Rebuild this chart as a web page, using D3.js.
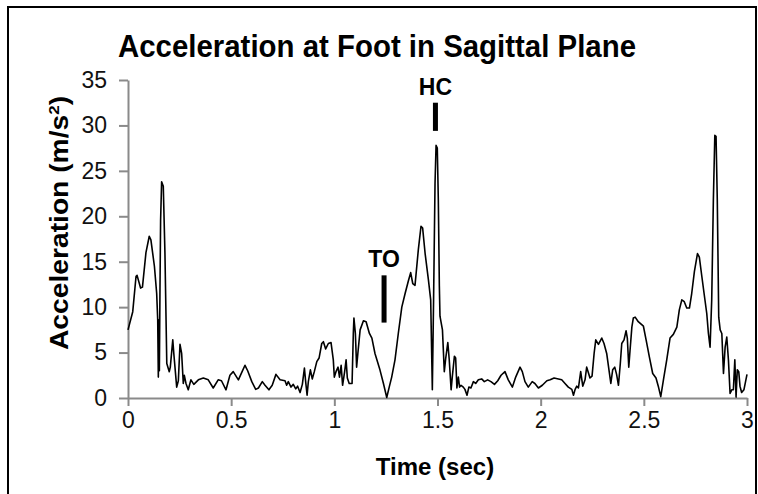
<!DOCTYPE html>
<html>
<head>
<meta charset="utf-8">
<script src="https://cdn.jsdelivr.net/npm/d3@7"></script>
<style>
  body { margin: 0; background: #fff; }
  svg { display: block; font-family: "Liberation Sans", Arial, sans-serif; }
</style>
</head>
<body>
<svg id="chart"></svg>
<script>
// time (sec) and acceleration (m/s^2)
const time = [
  0, 0.023, 0.039, 0.044, 0.061, 0.07, 0.087, 0.103, 0.111, 0.128, 0.139, 0.144, 0.147, 0.15, 0.152, 0.155, 0.158, 0.163, 0.171, 0.179,
  0.188, 0.2, 0.205, 0.217, 0.222, 0.236, 0.244, 0.252, 0.26, 0.268, 0.273, 0.281, 0.292, 0.305, 0.319, 0.341, 0.365, 0.389, 0.413, 0.437,
  0.453, 0.475, 0.494, 0.51, 0.535, 0.553, 0.567, 0.58, 0.6, 0.619, 0.632, 0.651, 0.664, 0.683, 0.699, 0.717, 0.737, 0.761, 0.769, 0.777,
  0.79, 0.801, 0.813, 0.822, 0.834, 0.845, 0.855, 0.861, 0.868, 0.874, 0.884, 0.893, 0.903, 0.915, 0.926, 0.939, 0.947, 0.958, 0.971, 0.984,
  0.995, 1.0, 1.008, 1.018, 1.025, 1.033, 1.04, 1.05, 1.057, 1.063, 1.072, 1.086, 1.092, 1.095, 1.102, 1.108, 1.114, 1.125, 1.141, 1.154,
  1.17, 1.182, 1.197, 1.221, 1.238, 1.254, 1.266, 1.278, 1.294, 1.31, 1.327, 1.343, 1.359, 1.37, 1.38, 1.391, 1.407, 1.42, 1.428, 1.44,
  1.456, 1.467, 1.475, 1.481, 1.488, 1.493, 1.499, 1.504, 1.509, 1.512, 1.524, 1.533, 1.54, 1.55, 1.557, 1.566, 1.572, 1.582, 1.588, 1.594,
  1.601, 1.607, 1.614, 1.625, 1.633, 1.643, 1.652, 1.662, 1.674, 1.685, 1.698, 1.714, 1.727, 1.743, 1.759, 1.776, 1.792, 1.808, 1.827, 1.843,
  1.863, 1.879, 1.9, 1.911, 1.924, 1.94, 1.959, 1.972, 1.989, 2.008, 2.03, 2.046, 2.065, 2.086, 2.102, 2.118, 2.134, 2.151, 2.159, 2.167,
  2.175, 2.183, 2.194, 2.204, 2.215, 2.223, 2.231, 2.239, 2.249, 2.259, 2.267, 2.28, 2.296, 2.307, 2.32, 2.331, 2.34, 2.349, 2.359, 2.368,
  2.377, 2.386, 2.393, 2.404, 2.414, 2.42, 2.427, 2.433, 2.442, 2.449, 2.458, 2.473, 2.498, 2.511, 2.527, 2.543, 2.559, 2.57, 2.582, 2.595,
  2.611, 2.627, 2.643, 2.66, 2.672, 2.684, 2.696, 2.708, 2.721, 2.732, 2.745, 2.76, 2.769, 2.781, 2.792, 2.805, 2.813, 2.821, 2.829, 2.837,
  2.844, 2.85, 2.856, 2.863, 2.87, 2.878, 2.886, 2.894, 2.902, 2.91, 2.918, 2.926, 2.934, 2.941, 2.947, 2.953, 2.96, 2.966, 2.974, 2.985,
  3.0
];
const accel = [
  7.5, 9.5, 13.4, 13.5, 12.1, 12.2, 16, 17.8, 17.4, 14.5, 11.5, 8.6, 2.3, 8.6, 3.0, 12, 19.6, 23.8, 23.3, 16,
  3.8, 2.9, 3.4, 6.4, 4.9, 1.2, 1.9, 5.9, 4.9, 1.6, 2.5, 1.6, 0.9, 2.0, 1.5, 2.0, 2.2, 2.0, 1.1, 2.0,
  1.9, 0.9, 2.5, 2.9, 2.0, 2.9, 3.6, 3.0, 1.8, 0.95, 1.1, 1.8, 1.4, 0.9, 1.4, 2.6, 2.0, 1.9, 1.4, 1.8,
  1.2, 1.5, 1.0, 1.3, 0.6, 1.5, 3.3, 1.8, 0.3, 1.8, 3.1, 2.1, 2.9, 4.0, 4.4, 6.0, 6.2, 5.4, 6.0, 6.1,
  4.2, 2.3, 2.9, 3.4, 2.3, 3.6, 1.4, 2.9, 4.2, 2.2, 1.6, 1.6, 7.1, 8.8, 7.1, 3.4, 4.9, 7.5, 8.5, 8.4,
  7.1, 6.6, 4.9, 3.1, 1.6, 0.05, 1.2, 2.3, 4.2, 7.1, 10.0, 11.5, 12.9, 13.8, 12.6, 12.4, 16.3, 18.9, 18.7, 15.9,
  13.0, 10.8, 0.9, 10.8, 23.6, 27.8, 27.5, 21.8, 12.3, 9.0, 7.5, 2.9, 4.4, 6.1, 4.2, 0.9, 2.4, 4.6, 4.4, 1.1,
  2.3, 1.2, 1.4, 1.2, 0.95, 0.3, 1.2, 1.1, 1.8, 1.6, 2.0, 2.1, 1.8, 2.0, 1.8, 1.5, 1.9, 2.5, 2.9, 2.0,
  1.2, 2.3, 3.4, 2.9, 1.8, 1.2, 1.8, 1.6, 1.1, 1.4, 1.9, 2.0, 2.2, 2.1, 2.0, 1.6, 1.2, 0.95, 0.3, 0.95,
  1.3, 1.1, 2.9, 1.3, 2.0, 3.4, 2.8, 2.2, 2.4, 4.9, 6.4, 5.9, 6.6, 6.0, 4.9, 3.1, 1.6, 3.1, 3.4, 2.6,
  1.4, 3.8, 6.0, 6.4, 7.4, 6.6, 3.4, 5.2, 7.8, 8.8, 8.9, 8.4, 7.9, 6.4, 4.5, 2.7, 2.2, 1.3, 0.15, 2.0,
  4.2, 6.6, 7.0, 7.8, 9.7, 10.8, 10.6, 9.9, 9.9, 11.5, 13.9, 15.9, 15.5, 13.4, 11.5, 9.3, 7.1, 5.6, 10.8, 21.8,
  28.9, 28.8, 21.8, 8.9, 7.5, 7.1, 2.7, 5.6, 6.7, 4.2, 0.5, 0.9, 0.9, 4.2, 0.1, 3.1, 2.9, 1.3, 0.6, 0.9,
  2.6
];

const xTicks = [0, 0.5, 1, 1.5, 2, 2.5, 3];
const yTicks = [0, 5, 10, 15, 20, 25, 30, 35];

// gait events: label, time, bar bottom / top (m/s^2)
const eventNames = ['TO', 'HC'];
const eventTimes = [1.241, 1.49];
const eventLow = [8.3, 29.4];
const eventHigh = [13.5, 32.5];

const W = 758, H = 494;
const margin = { top: 80, right: 11, bottom: 96, left: 128 };

const svg = d3.select('#chart')
    .attr('width', W)
    .attr('height', H);

// outer frame
svg.append('rect')
    .attr('x', 8).attr('y', 7)
    .attr('width', 748).attr('height', 520)
    .attr('fill', 'none')
    .attr('stroke', '#000')
    .attr('stroke-width', 2);

const x = d3.scaleLinear().domain([0, 3]).range([margin.left, W - margin.right]);
const y = d3.scaleLinear().domain([0, 35]).range([H - margin.bottom, margin.top]);

const axisColor = '#8a8a8a';

const gY = svg.append('g')
    .attr('transform', 'translate(' + margin.left + ',0)')
    .call(d3.axisLeft(y).tickValues(yTicks).tickSize(9).tickSizeOuter(0).tickPadding(12));

const gX = svg.append('g')
    .attr('transform', 'translate(0,' + (H - margin.bottom) + ')')
    .call(d3.axisBottom(x).tickValues(xTicks).tickSize(8).tickSizeOuter(0).tickPadding(6)
        .tickFormat(d3.format('')));

[gX, gY].forEach(g => {
    g.select('.domain').attr('stroke', axisColor).attr('stroke-width', 2);
    g.selectAll('.tick line').attr('stroke', axisColor).attr('stroke-width', 2);
    g.selectAll('.tick text')
        .attr('fill', '#111')
        .style('font-size', '23px')
        .style('font-family', '"Liberation Sans", Arial, sans-serif');
});

// the trace
const line = d3.line()
    .x(i => x(time[i]))
    .y(i => y(accel[i]));

svg.append('path')
    .datum(d3.range(time.length))
    .attr('d', line)
    .attr('fill', 'none')
    .attr('stroke', '#000')
    .attr('stroke-width', 1.6)
    .attr('stroke-linejoin', 'round');

// event bars and labels
eventNames.forEach((name, i) => {
    svg.append('rect')
        .attr('x', x(eventTimes[i]) - 2.5)
        .attr('y', y(eventHigh[i]))
        .attr('width', 5)
        .attr('height', y(eventLow[i]) - y(eventHigh[i]))
        .attr('fill', '#000');
    svg.append('text')
        .attr('x', x(eventTimes[i]))
        .attr('y', y(eventHigh[i]) - 8)
        .attr('text-anchor', 'middle')
        .style('font-size', '23px')
        .style('font-weight', 'bold')
        .text(name);
});

// titles
svg.append('text')
    .attr('x', 377)
    .attr('y', 57)
    .attr('text-anchor', 'middle')
    .attr('textLength', 518)
    .attr('lengthAdjust', 'spacingAndGlyphs')
    .style('font-size', '31px')
    .style('font-weight', 'bold')
    .text('Acceleration at Foot in Sagittal Plane');

svg.append('text')
    .attr('x', 435)
    .attr('y', 475)
    .attr('text-anchor', 'middle')
    .style('font-size', '24px')
    .style('font-weight', 'bold')
    .text('Time (sec)');

// stretched along the text direction like the source image
const yTitle = svg.append('text')
    .attr('transform', 'translate(68,223) rotate(-90) scale(1.13,1)')
    .attr('text-anchor', 'middle')
    .style('font-size', '25px')
    .style('font-weight', 'bold');
yTitle.append('tspan').text('Acceleration (m/s');
yTitle.append('tspan').attr('dy', '-9').style('font-size', '15px').text('2');
yTitle.append('tspan').attr('dy', '9').text(')');
</script>
</body>
</html>
